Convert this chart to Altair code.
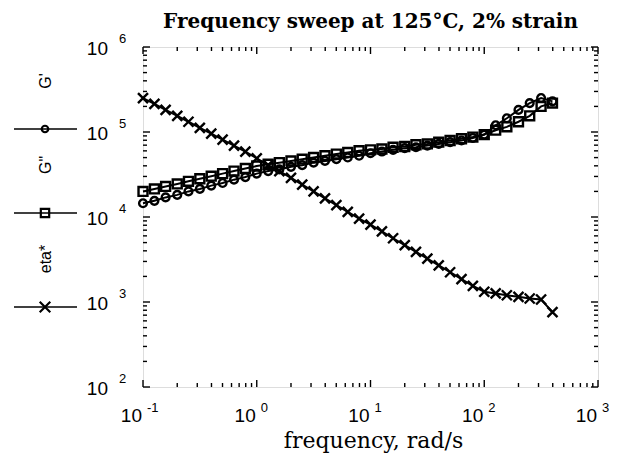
import altair as alt
import pandas as pd

# ---- data ----
freq = [0.1, 0.126, 0.158, 0.2, 0.251, 0.316, 0.398, 0.501, 0.631, 0.794,
        1.0, 1.26, 1.58, 2.0, 2.51, 3.16, 3.98, 5.01, 6.31, 7.94,
        10.0, 12.6, 15.8, 20.0, 25.1, 31.6, 39.8, 50.1, 63.1, 79.4,
        100.0, 126.0, 158.0, 200.0, 251.0, 316.0, 398.0]

g_prime = [14500, 15500, 17000, 18200, 20000, 21400, 23400, 25100, 27500, 29500,
           32400, 34700, 36300, 38900, 40700, 43600, 45700, 47900, 50100, 52500,
           56200, 58900, 61700, 64600, 66100, 69200, 72400, 75900, 79400, 85100,
           93300, 120000, 145000, 182000, 219000, 251000, 229000]

g_dprime = [20000, 21400, 22900, 24500, 26300, 28200, 30200, 32400, 34700, 37200,
            39800, 41700, 43600, 45700, 47900, 50100, 52500, 55000, 57500, 60300,
            61700, 63100, 66100, 67600, 70800, 72400, 75900, 79400, 83200, 87100,
            93300, 105000, 115000, 132000, 155000, 200000, 219000]

eta_star = [251000, 214000, 182000, 155000, 132000, 112000, 95500, 81300, 69200, 58900,
            49000, 40700, 34700, 28800, 24000, 20000, 16600, 13800, 11500, 9550,
            8130, 6760, 5620, 4680, 3890, 3240, 2690, 2240, 1860, 1550,
            1320, 1260, 1200, 1150, 1100, 1070, 760]

series_names = ["G'", 'G"', "eta*"]
x_exponents = [-1, 0, 1, 2, 3]
y_exponents = [2, 3, 4, 5, 6]

title_text = "Frequency sweep at 125°C, 2% strain"
x_title = "frequency, rad/s"

# ---- build tables ----
rows = []
for name, vals in zip(series_names, [g_prime, g_dprime, eta_star]):
    for f, v in zip(freq, vals):
        rows.append({"freq": f, "value": v, "series": name})
df = pd.DataFrame(rows)

W, H = 455, 340
SANS = "Liberation Sans"
SERIF = "DejaVu Serif"

shape_range = ["circle", "square", "M-1,-1L1,1M-1,1L1,-1"]
size_range = [60, 100, 160]

x_scale = alt.Scale(type="log", domain=[0.1, 1000], nice=False)
y_scale = alt.Scale(type="log", domain=[100, 1e6], nice=False)

grid_x_axis = alt.Axis(values=[10.0 ** e for e in x_exponents], grid=True, gridDash=[1, 3],
                       gridColor="#666", gridWidth=1, labels=False, ticks=False,
                       domain=False, title=None)
grid_y_axis = alt.Axis(values=[10.0 ** e for e in y_exponents], grid=True, gridDash=[1, 3],
                       gridColor="#666", gridWidth=1, labels=False, ticks=False,
                       domain=False, title=None)

lines = alt.Chart(df).mark_line(color="black", strokeWidth=2).encode(
    x=alt.X("freq:Q", scale=x_scale, axis=grid_x_axis),
    y=alt.Y("value:Q", scale=y_scale, axis=grid_y_axis),
    detail="series:N",
)

points = alt.Chart(df).mark_point(filled=False, color="black", strokeWidth=2.4, opacity=1).encode(
    x=alt.X("freq:Q", scale=x_scale, axis=None),
    y=alt.Y("value:Q", scale=y_scale, axis=None),
    shape=alt.Shape("series:N", scale=alt.Scale(domain=series_names, range=shape_range), legend=None),
    size=alt.Size("series:N", scale=alt.Scale(domain=series_names, range=size_range), legend=None),
)

# ---- inside ticks (log minor + major) ----
x_minor = pd.DataFrame({"t": [m * 10.0 ** e for e in x_exponents[:-1] for m in range(2, 10)]})
x_major = pd.DataFrame({"t": [10.0 ** e for e in x_exponents]})
y_minor = pd.DataFrame({"t": [m * 10.0 ** e for e in y_exponents[:-1] for m in range(2, 10)]})
y_major = pd.DataFrame({"t": [10.0 ** e for e in y_exponents]})

def xticks(data, length):
    bottom = alt.Chart(data).mark_rule(color="black", strokeWidth=1.4).encode(
        x=alt.X("t:Q", scale=x_scale, axis=None), y=alt.value(H), y2=alt.value(H - length))
    top = alt.Chart(data).mark_rule(color="black", strokeWidth=1.4).encode(
        x=alt.X("t:Q", scale=x_scale, axis=None), y=alt.value(0), y2=alt.value(length))
    return [bottom, top]

def yticks(data, length):
    left = alt.Chart(data).mark_rule(color="black", strokeWidth=1.4).encode(
        y=alt.Y("t:Q", scale=y_scale, axis=None), x=alt.value(0), x2=alt.value(length))
    right = alt.Chart(data).mark_rule(color="black", strokeWidth=1.4).encode(
        y=alt.Y("t:Q", scale=y_scale, axis=None), x=alt.value(W), x2=alt.value(W - length))
    return [left, right]

tick_layers = xticks(x_minor, 4) + xticks(x_major, 7) + yticks(y_minor, 4) + yticks(y_major, 7)

# ---- tick labels with superscripts ----
xl = pd.DataFrame({"pos": [10.0 ** e for e in x_exponents], "base": ["10"] * len(x_exponents),
                   "exp": [str(e) for e in x_exponents]})
yl = pd.DataFrame({"pos": [10.0 ** e for e in y_exponents], "base": ["10"] * len(y_exponents),
                   "exp": [str(e) for e in y_exponents]})

x_base = alt.Chart(xl).mark_text(font=SANS, fontSize=19, align="right", baseline="alphabetic",
                                 dx=-1, color="black").encode(
    x=alt.X("pos:Q", scale=x_scale, axis=None), y=alt.value(H + 35), text="base:N")
x_exp = alt.Chart(xl).mark_text(font=SANS, fontSize=13, align="left", baseline="alphabetic",
                                dx=4, color="black").encode(
    x=alt.X("pos:Q", scale=x_scale, axis=None), y=alt.value(H + 25), text="exp:N")
y_base = alt.Chart(yl).mark_text(font=SANS, fontSize=19, align="right", baseline="alphabetic",
                                 dy=8, color="black").encode(
    y=alt.Y("pos:Q", scale=y_scale, axis=None), x=alt.value(-35), text="base:N")
y_exp = alt.Chart(yl).mark_text(font=SANS, fontSize=13, align="left", baseline="alphabetic",
                                dy=-4, color="black").encode(
    y=alt.Y("pos:Q", scale=y_scale, axis=None), x=alt.value(-24), text="exp:N")

one = pd.DataFrame({"k": [0]})
title_layer = alt.Chart(one).mark_text(font=SERIF, fontSize=20, fontWeight="bold", align="center",
                                       baseline="alphabetic", color="black").encode(
    x=alt.value(W / 2), y=alt.value(-19), text=alt.value(title_text))
xtitle_layer = alt.Chart(one).mark_text(font=SERIF, fontSize=22, align="center",
                                        baseline="alphabetic", color="black").encode(
    x=alt.value(W / 2 + 3), y=alt.value(H + 61), text=alt.value(x_title))

# ---- legend on the left ----
legend_layers = []
sym_y = [82, 166, 260]
for name, shp, sz, sy in zip(series_names, shape_range, size_range, sym_y):
    d = pd.DataFrame({"series": [name]})
    legend_layers.append(alt.Chart(d).mark_rule(color="black", strokeWidth=1.6).encode(
        x=alt.value(-129), x2=alt.value(-66), y=alt.value(sy)))
    legend_layers.append(alt.Chart(d).mark_point(shape=shp, size=sz * 0.7, filled=False, color="black",
                                                 strokeWidth=2.2, opacity=1).encode(
        x=alt.value(-98), y=alt.value(sy)))
    legend_layers.append(alt.Chart(d).mark_text(font=SANS, fontSize=16, angle=270, align="center",
                                                baseline="middle", color="black").encode(
        x=alt.value(-97), y=alt.value(sy - 48), text="series:N"))

chart = alt.layer(lines, points, *tick_layers, x_base, x_exp, y_base, y_exp,
                  title_layer, xtitle_layer, *legend_layers).properties(
    width=W, height=H,
    autosize=alt.AutoSizeParams(type="none"),
    padding={"left": 135, "top": 39, "right": 14, "bottom": 66},
).configure_view(stroke="black", strokeWidth=2).configure(background="white")

chart.save("out.html", embed_options={"renderer": "svg", "actions": False})
